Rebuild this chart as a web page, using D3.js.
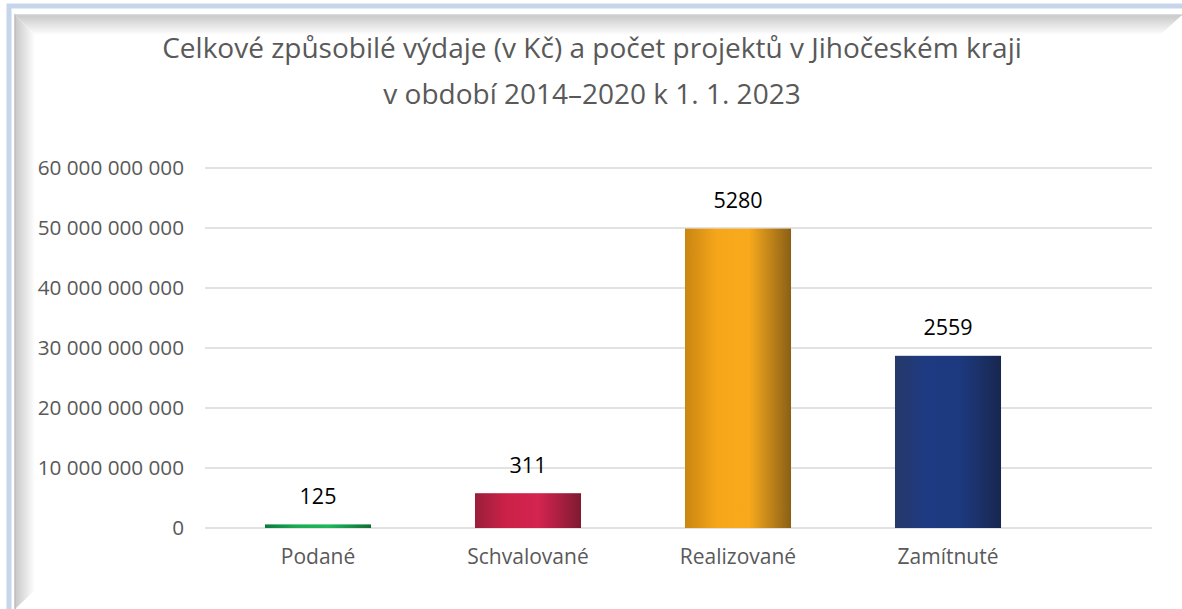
<!DOCTYPE html>
<html><head><meta charset="utf-8">
<script src="https://cdn.jsdelivr.net/npm/d3@7"></script>
<style>html,body{margin:0;padding:0;background:#fff;}svg{display:block;}</style>
</head><body>
<svg id="chart" width="1182" height="609"></svg>
<script>
const categories = ["Podané", "Schvalované", "Realizované", "Zamítnuté"];
const expenditure = [600000000, 5800000000, 49900000000, 28700000000];
const projectCounts = [125, 311, 5280, 2559];
const yTicks = [0, 10000000000, 20000000000, 30000000000, 40000000000, 50000000000, 60000000000];
const titleLines = ["Celkové způsobilé výdaje (v Kč) a počet projektů v Jihočeském kraji", "v období 2014–2020 k 1. 1. 2023"];
const barColors = [
  ["#0c7a3c", "#1aac52", "#1eb85a", "#0f6e35"],
  ["#9a1f3a", "#cc2148", "#d42450", "#7e1a30"],
  ["#c98612", "#f6a61a", "#f9aa1c", "#8a6016"],
  ["#26396a", "#1e3a82", "#1d3a80", "#18274f"]
];

const svg = d3.select("#chart");
const font = "'Open Sans', 'Noto Sans', sans-serif";
const defs = svg.append("defs");

const lgTop = defs.append("linearGradient").attr("id","shTop").attr("x1",0).attr("y1",0).attr("x2",0).attr("y2",1);
lgTop.append("stop").attr("offset",0).attr("stop-color","#c8c8c8");
lgTop.append("stop").attr("offset",1).attr("stop-color","#ffffff");
const lgLeft = defs.append("linearGradient").attr("id","shLeft").attr("x1",0).attr("y1",0).attr("x2",1).attr("y2",0);
lgLeft.append("stop").attr("offset",0).attr("stop-color","#c8c8c8");
lgLeft.append("stop").attr("offset",1).attr("stop-color","#ffffff");

svg.append("rect").attr("x",0).attr("y",0).attr("width",1182).attr("height",609).attr("fill","#fff");
svg.append("rect").attr("x",9).attr("y",6).attr("width",1190).attr("height",620).attr("fill","none").attr("stroke","#c6d5ea").attr("stroke-width",5);
svg.append("rect").attr("x",13).attr("y",10).attr("width",1190).attr("height",620).attr("fill","none").attr("stroke","#ffffff").attr("stroke-width",2);
svg.append("path").attr("d","M15,15 L1182,15 L1182,15 L1160,35 L35,35 Z").attr("fill","url(#shTop)");
svg.append("path").attr("d","M15,15 L35,35 L35,590 L15,609 Z").attr("fill","url(#shLeft)");
svg.append("line").attr("x1",15).attr("x2",15).attr("y1",14).attr("y2",609).attr("stroke","#bdbdbd").attr("stroke-width",1.5);
svg.append("line").attr("x1",14).attr("x2",1182).attr("y1",15).attr("y2",15).attr("stroke","#cfcfcf").attr("stroke-width",1.5);

const y = d3.scaleLinear().domain([0, 60000000000]).range([528, 168]);
const x = d3.scaleBand().domain(categories).range([213, 1053]).paddingInner(0.495).paddingOuter(0.2475);
const gridX0 = 205, gridX1 = 1152;

svg.append("g").selectAll("line").data(yTicks).join("line")
  .attr("x1", gridX0).attr("x2", gridX1)
  .attr("y1", d => y(d)).attr("y2", d => y(d))
  .attr("stroke", "#d9d9d9").attr("stroke-width", 1.3);

const fmt = v => d3.format(",")(v).replace(/,/g, " ");
svg.append("g").selectAll("text").data(yTicks).join("text")
  .attr("x", 184).attr("y", d => y(d)).attr("dy", "0.35em")
  .attr("text-anchor", "end").attr("font-family", font).attr("font-size", 20.7)
  .attr("fill", "#595959").text(fmt);

categories.forEach((c, i) => {
  const g = defs.append("linearGradient").attr("id", "bg" + i).attr("x1", 0).attr("x2", 1).attr("y1", 0).attr("y2", 0);
  const cs = barColors[i];
  g.append("stop").attr("offset", 0).attr("stop-color", cs[0]);
  g.append("stop").attr("offset", 0.3).attr("stop-color", cs[1]);
  g.append("stop").attr("offset", 0.6).attr("stop-color", cs[2]);
  g.append("stop").attr("offset", 1).attr("stop-color", cs[3]);
});
svg.append("g").selectAll("rect").data(categories).join("rect")
  .attr("x", d => x(d)).attr("width", x.bandwidth())
  .attr("y", (d, i) => y(expenditure[i]))
  .attr("height", (d, i) => y(0) - y(expenditure[i]))
  .attr("fill", (d, i) => `url(#bg${i})`);

svg.append("g").selectAll("text").data(categories).join("text")
  .attr("x", d => x(d) + x.bandwidth() / 2)
  .attr("y", (d, i) => y(expenditure[i]) - 28).attr("dy", "0.35em")
  .attr("text-anchor", "middle").attr("font-family", font).attr("font-size", 21.5)
  .attr("fill", "#000").text((d, i) => projectCounts[i]);

svg.append("g").selectAll("text").data(categories).join("text")
  .attr("x", d => x(d) + x.bandwidth() / 2).attr("y", 557).attr("dy", "0.35em")
  .attr("text-anchor", "middle").attr("font-family", font).attr("font-size", 21)
  .attr("fill", "#595959").text(d => d);

svg.append("g").selectAll("text").data(titleLines).join("text")
  .attr("x", 592).attr("y", (d, i) => 48 + i * 46).attr("dy", "0.35em")
  .attr("text-anchor", "middle").attr("font-family", font).attr("font-size", 28)
  .attr("fill", "#595959").text(d => d);
</script>
</body></html>
